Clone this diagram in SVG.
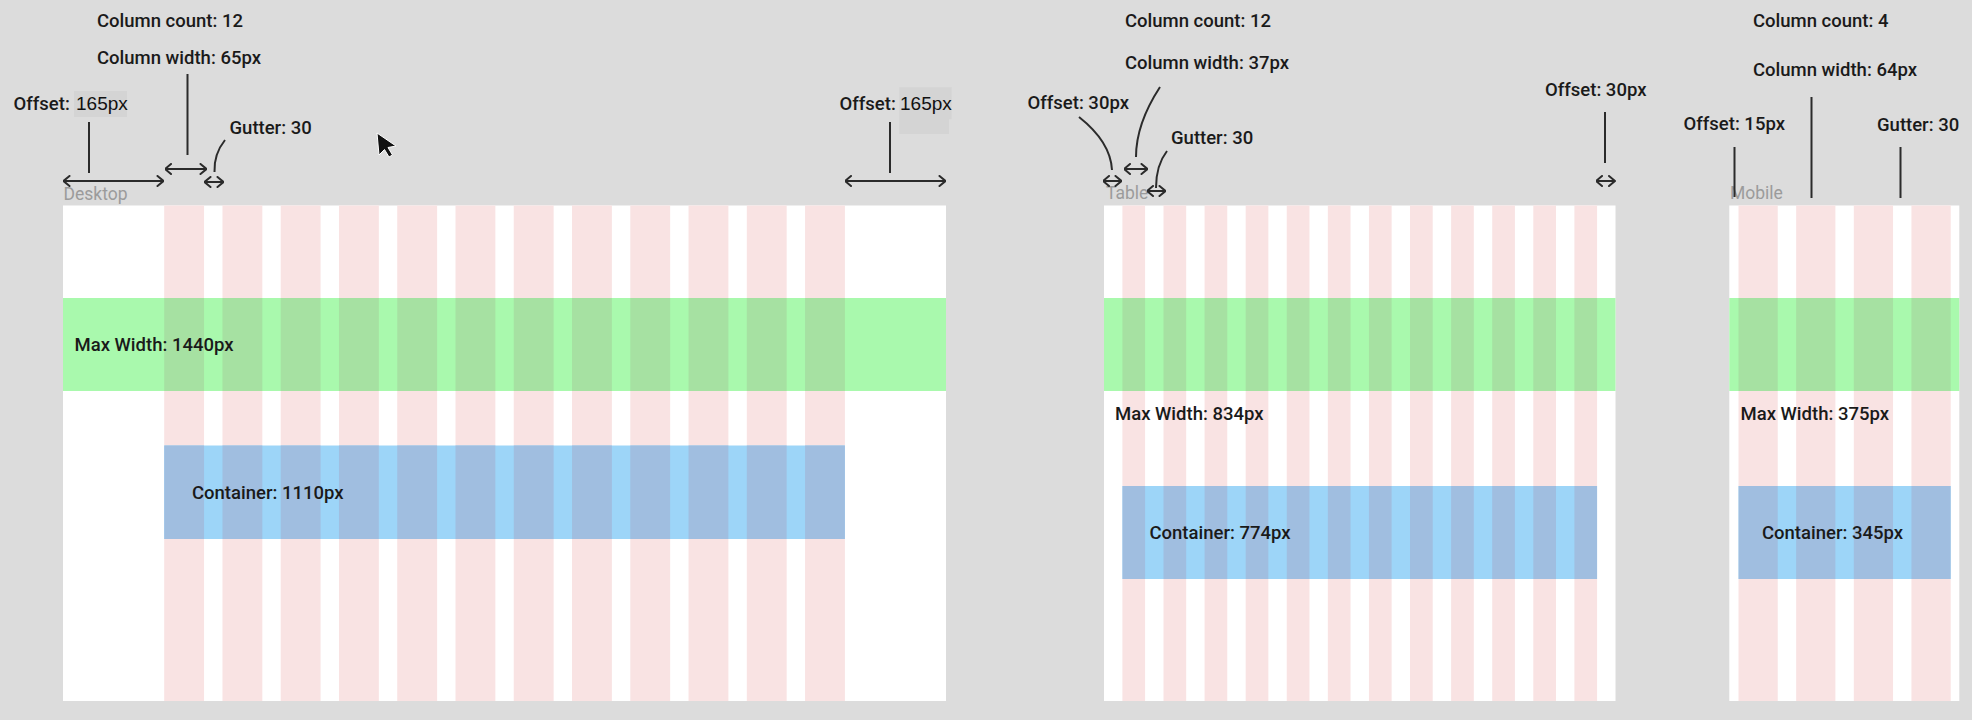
<svg xmlns="http://www.w3.org/2000/svg" xmlns:xlink="http://www.w3.org/1999/xlink" width="1972" height="720" viewBox="0 0 1972 720">
<style>
.bg{fill:#dcdcdc}
.panel{fill:#ffffff}
.pink{fill:#f9e3e3}
.green{fill:#a9f9ad}
.greenD{fill:#a6e1a2}
.blue{fill:#9dd5f8}
.blueD{fill:#a0bee0}
.lbl{font-family:Roboto,"Liberation Sans",sans-serif;font-weight:500;font-size:18.5px;fill:#1a1a1a}
.val{font-family:"Liberation Sans",Arial,sans-serif;font-weight:400;font-size:19px;fill:#111111}
.frame{font-family:Roboto,"Liberation Sans",sans-serif;font-weight:400;font-size:17.5px;fill:#9b9b9b}
.hl{fill:#d4d4d4}
.ln{fill:none;stroke:#2b2b2b;stroke-width:2}
.arr{fill:none;stroke:#2b2b2b;stroke-width:2;marker-start:url(#head);marker-end:url(#head)}
</style>
<defs>
<marker id="head" viewBox="0 0 8 12" refX="7.5" refY="6" markerWidth="8" markerHeight="12" markerUnits="userSpaceOnUse" orient="auto-start-reverse">
<path d="M1.5,1 L7.5,6 L1.5,11" fill="none" stroke="#2b2b2b" stroke-width="2" stroke-linecap="round" stroke-linejoin="round"/>
</marker>
<g id="dcols">
<rect x="164.2" y="205.5" width="39.86" height="495.5"/>
<rect x="222.46" y="205.5" width="39.86" height="495.5"/>
<rect x="280.72" y="205.5" width="39.86" height="495.5"/>
<rect x="338.98" y="205.5" width="39.86" height="495.5"/>
<rect x="397.24" y="205.5" width="39.86" height="495.5"/>
<rect x="455.5" y="205.5" width="39.86" height="495.5"/>
<rect x="513.76" y="205.5" width="39.86" height="495.5"/>
<rect x="572.02" y="205.5" width="39.86" height="495.5"/>
<rect x="630.28" y="205.5" width="39.86" height="495.5"/>
<rect x="688.54" y="205.5" width="39.86" height="495.5"/>
<rect x="746.8" y="205.5" width="39.86" height="495.5"/>
<rect x="805.06" y="205.5" width="39.86" height="495.5"/>
</g>
<g id="tcols">
<rect x="1122.4" y="205.5" width="22.69" height="495.5"/>
<rect x="1163.49" y="205.5" width="22.69" height="495.5"/>
<rect x="1204.58" y="205.5" width="22.69" height="495.5"/>
<rect x="1245.67" y="205.5" width="22.69" height="495.5"/>
<rect x="1286.76" y="205.5" width="22.69" height="495.5"/>
<rect x="1327.85" y="205.5" width="22.69" height="495.5"/>
<rect x="1368.94" y="205.5" width="22.69" height="495.5"/>
<rect x="1410.03" y="205.5" width="22.69" height="495.5"/>
<rect x="1451.12" y="205.5" width="22.69" height="495.5"/>
<rect x="1492.21" y="205.5" width="22.69" height="495.5"/>
<rect x="1533.3" y="205.5" width="22.69" height="495.5"/>
<rect x="1574.39" y="205.5" width="22.69" height="495.5"/>
</g>
<g id="mcols">
<rect x="1738.5" y="205.5" width="39.25" height="495.5"/>
<rect x="1796.15" y="205.5" width="39.25" height="495.5"/>
<rect x="1853.8" y="205.5" width="39.25" height="495.5"/>
<rect x="1911.45" y="205.5" width="39.25" height="495.5"/>
</g>
<clipPath id="dGreenClip"><rect x="63" y="298" width="883" height="93"/></clipPath>
<clipPath id="dBlueClip"><rect x="164.2" y="445.5" width="680.7" height="93.5"/></clipPath>
<clipPath id="tGreenClip"><rect x="1104" y="298" width="511.5" height="93"/></clipPath>
<clipPath id="tBlueClip"><rect x="1122.4" y="486" width="474.7" height="93"/></clipPath>
<clipPath id="mGreenClip"><rect x="1729.3" y="298" width="230" height="93"/></clipPath>
<clipPath id="mBlueClip"><rect x="1738.5" y="486" width="212.2" height="93"/></clipPath>
</defs>

<rect class="bg" x="0" y="0" width="1972" height="720"/>

<g id="desktop">
<rect class="panel" x="63" y="205.5" width="883" height="495.5"/>
<use xlink:href="#dcols" href="#dcols" class="pink"/>
<rect class="green" x="63" y="298" width="883" height="93"/>
<use xlink:href="#dcols" href="#dcols" class="greenD" clip-path="url(#dGreenClip)"/>
<rect class="blue" x="164.2" y="445.5" width="680.7" height="93.5"/>
<use xlink:href="#dcols" href="#dcols" class="blueD" clip-path="url(#dBlueClip)"/>
<text class="frame" x="63.5" y="199.5">Desktop</text>
<text class="lbl" x="74.5" y="351">Max Width: 1440px</text>
<text class="lbl" x="192" y="498.5">Container: 1110px</text>
</g>

<g id="tablet">
<rect class="panel" x="1104" y="205.5" width="511.5" height="495.5"/>
<use xlink:href="#tcols" href="#tcols" class="pink"/>
<rect class="green" x="1104" y="298" width="511.5" height="93"/>
<use xlink:href="#tcols" href="#tcols" class="greenD" clip-path="url(#tGreenClip)"/>
<rect class="blue" x="1122.4" y="486" width="474.7" height="93"/>
<use xlink:href="#tcols" href="#tcols" class="blueD" clip-path="url(#tBlueClip)"/>
<text class="frame" x="1106" y="199">Table</text>
<text class="lbl" x="1115" y="420">Max Width: 834px</text>
<text class="lbl" x="1149.5" y="539">Container: 774px</text>
</g>

<g id="mobile">
<rect class="panel" x="1729.3" y="205.5" width="230" height="495.5"/>
<use xlink:href="#mcols" href="#mcols" class="pink"/>
<rect class="green" x="1729.3" y="298" width="230" height="93"/>
<use xlink:href="#mcols" href="#mcols" class="greenD" clip-path="url(#mGreenClip)"/>
<rect class="blue" x="1738.5" y="486" width="212.2" height="93"/>
<use xlink:href="#mcols" href="#mcols" class="blueD" clip-path="url(#mBlueClip)"/>
<text class="frame" x="1730" y="198.5">Mobile</text>
<text class="lbl" x="1740.5" y="420">Max Width: 375px</text>
<text class="lbl" x="1762" y="539">Container: 345px</text>
</g>

<g id="desktop-annotations">
<text class="lbl" x="97" y="27">Column count: 12</text>
<text class="lbl" x="97" y="64">Column width: 65px</text>
<rect class="hl" x="74" y="91" width="53" height="26"/>
<text class="lbl" x="13.5" y="110">Offset:</text>
<text class="val" x="76" y="110">165px</text>
<text class="lbl" x="229.5" y="134">Gutter: 30</text>
<path class="hl" d="M899.3,87.3 H951.7 V119.3 H949 V134 H899.3 Z"/>
<text class="lbl" x="839.5" y="109.5">Offset:</text>
<text class="val" x="900" y="109.5">165px</text>
</g>

<g id="tablet-annotations">
<text class="lbl" x="1125" y="27">Column count: 12</text>
<text class="lbl" x="1125" y="69">Column width: 37px</text>
<text class="lbl" x="1027.5" y="109">Offset: 30px</text>
<text class="lbl" x="1171" y="144">Gutter: 30</text>
<text class="lbl" x="1545" y="96">Offset: 30px</text>
</g>

<g id="mobile-annotations">
<text class="lbl" x="1753" y="27">Column count: 4</text>
<text class="lbl" x="1753" y="76">Column width: 64px</text>
<text class="lbl" x="1683.5" y="130">Offset: 15px</text>
<text class="lbl" x="1877" y="131">Gutter: 30</text>
</g>

<g id="connectors">
<line class="ln" x1="89" y1="122" x2="89" y2="173"/>
<line class="arr" x1="63.5" y1="181" x2="163.5" y2="181"/>
<line class="ln" x1="187.5" y1="74" x2="187.5" y2="155"/>
<line class="arr" x1="165" y1="169" x2="206.5" y2="169"/>
<path class="ln" d="M225,140 C217,150 214,160 214.5,172"/>
<line class="arr" x1="204.5" y1="182" x2="223.5" y2="182"/>
<line class="ln" x1="890" y1="122" x2="890" y2="173"/>
<line class="arr" x1="845" y1="181" x2="945.5" y2="181"/>

<path class="ln" d="M1079,117 C1098,132 1111,150 1112,170"/>
<line class="arr" x1="1103" y1="181" x2="1121.5" y2="181"/>
<path class="ln" d="M1160,87 C1145,110 1136,135 1136,157"/>
<line class="arr" x1="1124" y1="169" x2="1147.5" y2="169"/>
<path class="ln" d="M1167,151 C1160,160 1156,172 1156,188"/>
<line class="arr" x1="1147" y1="191" x2="1165.5" y2="191"/>
<line class="ln" x1="1605" y1="112" x2="1605" y2="163"/>
<line class="arr" x1="1596" y1="181" x2="1615" y2="181"/>

<line class="ln" x1="1734.5" y1="147" x2="1734.5" y2="197"/>
<line class="ln" x1="1811.5" y1="97" x2="1811.5" y2="198"/>
<line class="ln" x1="1900.5" y1="147" x2="1900.5" y2="198"/>
</g>

<path id="cursor" d="M377,133 L396,146 L388,147.5 L392.5,155 L389,157 L384.5,149.5 L379,155 Z" fill="#111111" stroke="#ffffff" stroke-width="1"/>
</svg>
